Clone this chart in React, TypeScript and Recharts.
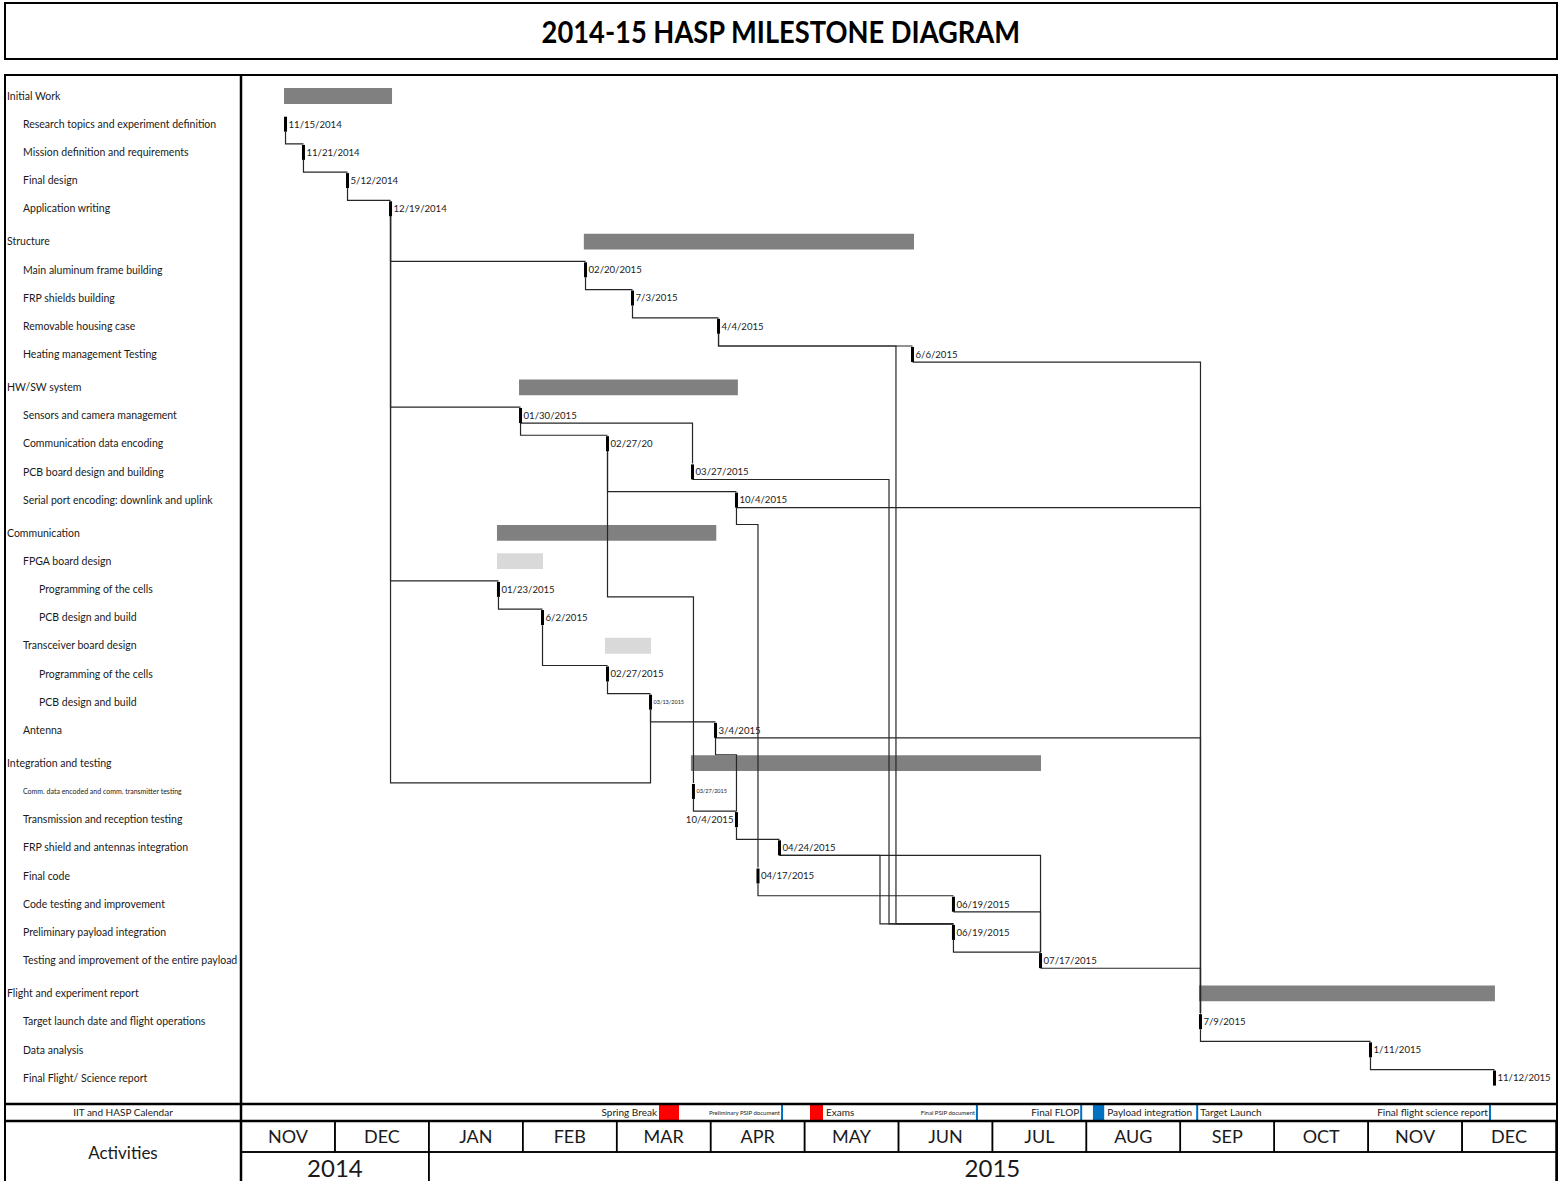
import { ComposedChart, XAxis, YAxis, Scatter, ReferenceArea, ReferenceLine } from "recharts"

const FONT = "Lato, 'Open Sans', sans-serif"
const INK = "#1a1a1a"
const LINK = "#262626"
const DARK_BAR = "#808080"
const LIGHT_BAR = "#d9d9d9"
const RED = "#ff0000"
const BLUE = "#0070c0"

// activity rows top to bottom: [label, indent level] (level 0 = group heading)
const activities: [string, number][] = [
  ["Initial Work", 0],
  ["Research topics and experiment definition", 1],
  ["Mission definition and requirements", 1],
  ["Final design", 1],
  ["Application writing", 1],
  ["Structure", 0],
  ["Main aluminum frame building", 1],
  ["FRP shields building", 1],
  ["Removable housing case", 1],
  ["Heating management Testing", 1],
  ["HW/SW system", 0],
  ["Sensors and camera management", 1],
  ["Communication data encoding", 1],
  ["PCB board design and building", 1],
  ["Serial port encoding: downlink and uplink", 1],
  ["Communication", 0],
  ["FPGA board design", 1],
  ["Programming of the cells", 2],
  ["PCB design and build", 2],
  ["Transceiver board design", 1],
  ["Programming of the cells", 2],
  ["PCB design and build", 2],
  ["Antenna", 1],
  ["Integration and testing", 0],
  ["Comm. data encoded and comm. transmitter testing", 1],
  ["Transmission and reception testing", 1],
  ["FRP shield and antennas integration", 1],
  ["Final code", 1],
  ["Code testing and improvement", 1],
  ["Preliminary payload integration", 1],
  ["Testing and improvement of the entire payload", 1],
  ["Flight and experiment report", 0],
  ["Target launch date and flight operations", 1],
  ["Data analysis", 1],
  ["Final Flight/ Science report", 1],
]
const tinyRows = [24]

// time axis is in months, 0 = 1 Nov 2014, 14 = 31 Dec 2015
const months = ["NOV", "DEC", "JAN", "FEB", "MAR", "APR", "MAY", "JUN", "JUL", "AUG", "SEP", "OCT", "NOV", "DEC"]
const years: [string, number, number][] = [
  ["2014", 0, 2],
  ["2015", 2, 14],
]

// summary bars: [row, start, end, light]
const summaryBars: [number, number, number, boolean][] = [
  [0, 0.458, 1.608, false],
  [5, 3.65, 7.165, false],
  [10, 2.96, 5.29, false],
  [15, 2.725, 5.06, false],
  [16, 2.725, 3.215, true],
  [19, 3.875, 4.365, true],
  [23, 4.79, 8.517, false],
  [31, 10.2, 13.35, false],
]

// milestones: [row, position, date label, label style]
const milestones: [number, number, string, string][] = [
  [1, 0.474, "11/15/2014", ""],
  [2, 0.665, "11/21/2014", ""],
  [3, 1.134, "5/12/2014", ""],
  [4, 1.592, "12/19/2014", ""],
  [6, 3.668, "02/20/2015", ""],
  [7, 4.168, "7/3/2015", ""],
  [8, 5.084, "4/4/2015", ""],
  [9, 7.149, "6/6/2015", ""],
  [11, 2.976, "01/30/2015", ""],
  [12, 3.902, "02/27/20", ""],
  [13, 4.807, "03/27/2015", ""],
  [14, 5.275, "10/4/2015", ""],
  [17, 2.741, "01/23/2015", ""],
  [18, 3.21, "6/2/2015", ""],
  [20, 3.902, "02/27/2015", ""],
  [21, 4.36, "03/13/2015", "tiny"],
  [22, 5.052, "3/4/2015", ""],
  [24, 4.817, "03/27/2015", "tiny"],
  [25, 5.275, "10/4/2015", "left"],
  [26, 5.733, "04/24/2015", ""],
  [27, 5.504, "04/17/2015", ""],
  [28, 7.585, "06/19/2015", ""],
  [29, 7.585, "06/19/2015", ""],
  [30, 8.512, "07/17/2015", ""],
  [32, 10.215, "7/9/2015", ""],
  [33, 12.025, "1/11/2015", ""],
  [34, 13.345, "11/12/2015", ""],
]

// dependencies between milestones (by row)
// down then across
const stepLinks: [number, number][] = [
  [1, 2], [2, 3], [3, 4], [4, 6], [4, 11], [4, 17], [6, 7], [7, 8], [8, 9],
  [11, 12], [12, 14], [17, 18], [18, 20], [20, 21], [21, 22], [24, 25], [25, 26],
  [27, 28], [29, 30], [32, 33], [33, 34],
]
// across then down: [from, to, lane]
const acrossLinks: [number, number, number?][] = [
  [11, 13], [13, 29, 6.899], [26, 29, 6.803], [26, 30], [28, 30],
  [9, 32], [14, 32], [22, 32], [30, 32],
]
// down to a turn row, across, then down: [from, to, turn row, side, lane]
const laneLinks: [number, number, number, string, number?][] = [
  [8, 29, 9, "top", 6.973],
  [12, 24, 17, "bottom"],
  [14, 27, 15, "top"],
  [22, 25, 23, "top"],
  [4, 21, 24, "top"],
]

// IIT and HASP calendar row
const calendarEvents = [
  { name: "Spring Break", kind: "box", color: RED, from: 4.45, to: 4.663, side: "before", tiny: false },
  { name: "Preliminary PSIP document", kind: "line", color: BLUE, from: 5.76, to: 5.76, side: "before", tiny: true },
  { name: "Exams", kind: "box", color: RED, from: 6.058, to: 6.196, side: "after", tiny: false },
  { name: "Final PSIP document", kind: "line", color: BLUE, from: 7.835, to: 7.835, side: "before", tiny: true },
  { name: "Final FLOP", kind: "line", color: BLUE, from: 8.945, to: 8.945, side: "before", tiny: false },
  { name: "Payload integration", kind: "box", color: BLUE, from: 9.07, to: 9.19, side: "after", tiny: false },
  { name: "Target Launch", kind: "line", color: BLUE, from: 10.18, to: 10.18, side: "after", tiny: false },
  { name: "Final flight science report", kind: "line", color: BLUE, from: 13.297, to: 13.297, side: "before", tiny: false },
]

// vertical layout in row units
const HEAD_GAP = 0.165
const rowY = (() => {
  let k = 0
  return activities.map(([, lvl], i) => {
    if (lvl === 0 && i > 0) k++
    return i + HEAD_GAP * k
  })
})()
const Y_TOP = -0.709
const Y_BOTTOM = 38.475
const CAL_TOP = 35.745
const CAL_BOTTOM = 36.348
const MONTH_BOTTOM = 37.447
const YEAR_BOTTOM = 38.582
const LEFT_EDGE = -2.513
const H = 0.27
const LEAD = 0.3

const msByRow = new Map(milestones.map((m) => [m[0], m]))

function route(from: number, to: number, mid?: [number, string], lane?: number, across?: boolean) {
  const a = msByRow.get(from)!
  const b = msByRow.get(to)!
  let x = a[1]
  let y = rowY[from] + H
  const pts = [{ x, y }]
  if (mid) {
    y = mid[1] === "top" ? rowY[mid[0]] - LEAD : rowY[mid[0]] + H
    pts.push({ x, y })
  }
  const turn = lane ?? (mid || across ? b[1] : a[1])
  if (turn !== x) {
    x = turn
    pts.push({ x, y })
  }
  const yb = rowY[to] < y ? rowY[to] + H : rowY[to] - LEAD
  pts.push({ x, y: yb })
  if (x !== b[1]) pts.push({ x: b[1], y: yb })
  return pts
}

const links = [
  ...stepLinks.map(([f, t]) => route(f, t)),
  ...acrossLinks.map(([f, t, lane]) => route(f, t, undefined, lane, true)),
  ...laneLinks.map(([f, t, r, side, lane]) => route(f, t, [r, side], lane)),
]

const indent = [2, 18, 34]

function ActivityTick(props: any) {
  const { x, y, payload } = props
  const i = rowY.findIndex((v) => Math.abs(v - payload.value) < 1e-6)
  if (i < 0) return null
  const [name, level] = activities[i]
  const tiny = tinyRows.includes(i)
  return (
    <text x={x - 236 + indent[level]} y={y} dy="0.35em" fontSize={tiny ? 7 : 10.5} fill={INK} fontFamily={FONT}>
      {name}
    </text>
  )
}

function MilestoneMark(props: any) {
  const { cx, cy, payload } = props
  const left = payload.style === "left"
  const tiny = payload.style === "tiny"
  return (
    <g>
      <rect x={cx - 1.5} y={cy - 7.5} width={3} height={15} fill="#000" />
      <text
        x={left ? cx - 3 : cx + 3}
        y={cy}
        dy="0.35em"
        textAnchor={left ? "end" : "start"}
        fontSize={tiny ? 5.5 : 9.6}
        fill={INK}
        fontFamily={FONT}
      >
        {payload.label}
      </text>
    </g>
  )
}

function CalendarLabel(props: any) {
  const { cx, cy, payload } = props
  const before = payload.side === "before"
  return (
    <text
      x={before ? cx - 2 : cx + 3}
      y={cy}
      dy="0.35em"
      textAnchor={before ? "end" : "start"}
      fontSize={payload.tiny ? 6 : 10}
      fill={INK}
      fontFamily={FONT}
    >
      {payload.name}
    </text>
  )
}

const noDot = () => <g />

export default function App() {
  const msData = milestones.map(([row, x, label, style]) => ({ x, y: rowY[row], label, style }))
  const calMid = (CAL_TOP + CAL_BOTTOM) / 2
  const calLabels = calendarEvents.map((e) => ({
    x: e.side === "before" ? e.from : e.to,
    y: calMid,
    name: e.name,
    side: e.side,
    tiny: e.tiny,
  }))

  return (
    <div style={{ position: "relative", width: 1560, height: 1181, background: "#fff", overflow: "hidden", fontFamily: FONT }}>
      <style>{"body{margin:0}"}</style>
      <div
        style={{
          position: "absolute",
          left: 4,
          top: 2,
          width: 1554,
          height: 58,
          boxSizing: "border-box",
          border: "2.5px solid #000",
          display: "flex",
          alignItems: "center",
          justifyContent: "center",
          fontWeight: 700,
          fontSize: 31,
          color: "#000",
        }}
      >
        <span style={{ display: "inline-block", transform: "scaleX(0.88)" }}>2014-15 HASP MILESTONE DIAGRAM</span>
      </div>
      <div style={{ position: "absolute", left: 0, top: 0 }}>
        <ComposedChart width={1560} height={1181} margin={{ top: 76, right: 4, bottom: 0, left: 5 }}>
          <XAxis type="number" dataKey="x" domain={[0, 14]} hide allowDataOverflow />
          <YAxis
            type="number"
            dataKey="y"
            domain={[Y_TOP, Y_BOTTOM]}
            reversed
            allowDataOverflow
            width={236}
            ticks={rowY}
            interval={0}
            tick={(p: any) => <ActivityTick {...p} />}
            tickLine={false}
            tickSize={0}
            tickMargin={0}
            axisLine={{ stroke: "#000", strokeWidth: 2.5 }}
          />

          {summaryBars.map(([row, s, e, light], i) => (
            <ReferenceArea
              key={"bar" + i}
              x1={s}
              x2={e}
              y1={rowY[row] - 0.28}
              y2={rowY[row] + 0.28}
              fill={light ? LIGHT_BAR : DARK_BAR}
              fillOpacity={1}
              stroke="none"
            />
          ))}

          {links.map((pts, i) => (
            <Scatter
              key={"link" + i}
              data={pts}
              line={{ stroke: LINK, strokeWidth: 1.2 }}
              lineType="joint"
              shape={noDot}
              isAnimationActive={false}
            />
          ))}

          <Scatter data={msData} shape={(p: any) => <MilestoneMark {...p} />} isAnimationActive={false} />

          {/* calendar row */}
          {calendarEvents.map((e, i) =>
            e.kind === "box" ? (
              <ReferenceArea
                key={"cal" + i}
                x1={e.from}
                x2={e.to}
                y1={CAL_TOP + 0.03}
                y2={CAL_BOTTOM - 0.03}
                fill={e.color}
                fillOpacity={1}
                stroke="none"
              />
            ) : (
              <ReferenceLine
                key={"cal" + i}
                segment={[
                  { x: e.from, y: CAL_TOP },
                  { x: e.from, y: CAL_BOTTOM },
                ]}
                stroke={e.color}
                strokeWidth={2}
              />
            )
          )}
          <Scatter data={calLabels} shape={(p: any) => <CalendarLabel {...p} />} isAnimationActive={false} />

          {/* month and year cells */}
          {months.map((m, i) => (
            <ReferenceArea
              key={"m" + i}
              x1={i}
              x2={i + 1}
              y1={CAL_BOTTOM}
              y2={MONTH_BOTTOM}
              fill="none"
              stroke="#000"
              strokeWidth={1.5}
              ifOverflow="visible"
              label={{ value: m, position: "center", fontSize: 18, fill: INK, fontFamily: FONT }}
            />
          ))}
          {years.map(([yr, s, e]) => (
            <ReferenceArea
              key={"y" + yr}
              x1={s}
              x2={e}
              y1={MONTH_BOTTOM}
              y2={YEAR_BOTTOM}
              fill="none"
              stroke="#000"
              strokeWidth={1.5}
              ifOverflow="visible"
              label={{ value: yr, position: "center", fontSize: 24, fill: INK, fontFamily: FONT }}
            />
          ))}
          <ReferenceArea
            x1={LEFT_EDGE}
            x2={0}
            y1={CAL_TOP}
            y2={CAL_BOTTOM}
            fill="none"
            stroke="none"
            ifOverflow="visible"
            label={{ value: "IIT and HASP Calendar", position: "center", fontSize: 10, fill: INK, fontFamily: FONT }}
          />
          <ReferenceArea
            x1={LEFT_EDGE}
            x2={0}
            y1={CAL_BOTTOM}
            y2={YEAR_BOTTOM}
            fill="none"
            stroke="none"
            ifOverflow="visible"
            label={{ value: "Activities", position: "center", fontSize: 17, fill: INK, fontFamily: FONT }}
          />
          {[CAL_TOP, CAL_BOTTOM].map((v) => (
            <ReferenceLine
              key={"rule" + v}
              segment={[
                { x: LEFT_EDGE, y: v },
                { x: 14, y: v },
              ]}
              stroke="#000"
              strokeWidth={2.5}
              ifOverflow="visible"
            />
          ))}
        </ComposedChart>
      </div>
      <div
        style={{
          position: "absolute",
          left: 4,
          top: 74,
          width: 1554,
          height: 1160,
          boxSizing: "border-box",
          border: "2.5px solid #000",
          pointerEvents: "none",
        }}
      />
    </div>
  )
}
